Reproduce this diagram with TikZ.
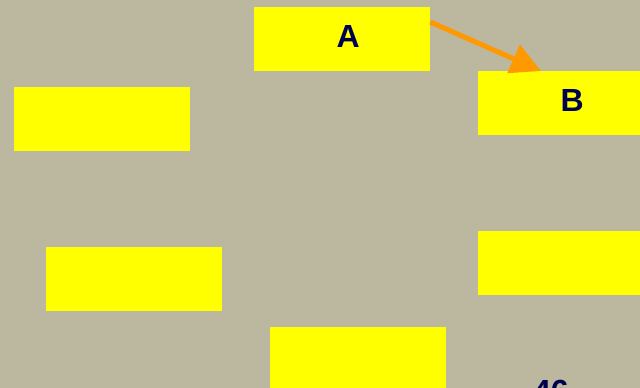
\documentclass[tikz,border=0pt]{standalone}
\usepackage{fontspec}
\setmainfont{Liberation Sans}
\usetikzlibrary{arrows.meta,calc}
\definecolor{bgc}{RGB}{187,184,159}
\definecolor{boxc}{RGB}{255,255,0}
\definecolor{arrc}{RGB}{255,153,0}
\definecolor{txtc}{RGB}{0,0,80}
\tikzset{
  box/.style={fill=boxc, draw=none, anchor=north west, minimum width=176pt, minimum height=64pt, inner sep=0pt},
  lbl/.style={label={[text=txtc, font=\fontsize{32}{36}\selectfont\bfseries, xshift=6pt, yshift=2.5pt]center:#1}},
  conn/.style={draw=arrc, line width=5pt, -{Triangle[length=30pt,width=30pt]}}
}
\begin{document}
\begin{tikzpicture}[x=1pt,y=-1pt]
\useasboundingbox (0,0) rectangle (640,388);
\clip (0,0) rectangle (640,388);
\fill[bgc] (0,0) rectangle (640,388);
\node[box, lbl=A] (A) at (254,7) {};
\node[box, lbl=B] (B) at (478,71) {};
\node[box] (L1) at (14,87) {};
\node[box] (L2) at (46,247) {};
\node[box] (R2) at (478,231) {};
\node[box] (BT) at (270,327) {};
\node[anchor=base west, inner sep=0pt, text=txtc, font=\fontsize{32}{36}\selectfont\bfseries] (N) at (533,402) {46};
\coordinate (s) at ($(A.north east)+(0,15)$);
\coordinate (e) at ($(B.north west)+(63,0)$);
\draw[conn] (s) -- (e);
\end{tikzpicture}
\end{document}
